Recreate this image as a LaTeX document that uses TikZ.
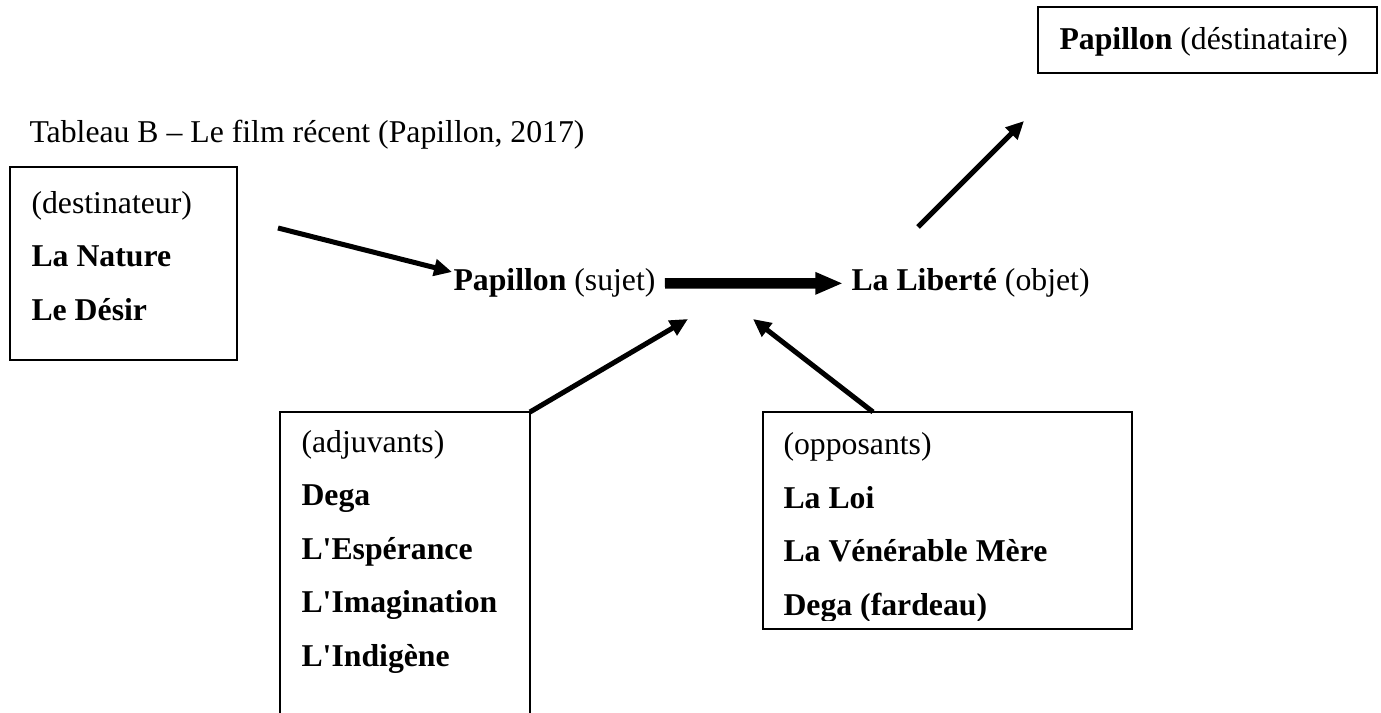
\documentclass[12pt,tikz,border=0pt]{standalone}
\usepackage{fontspec}
\setmainfont{Liberation Serif}
\usetikzlibrary{arrows.meta}
\tikzset{
    cadre/.style={line width=0.75pt},
    ligne/.style={anchor=base west, inner sep=0pt},
    fleche/.style={line width=1.9pt, -{Triangle[length=6.8pt,width=6.2pt]}},
    grosse/.style={line width=3.9pt, -{Triangle[length=10.5pt,width=7.8pt]}}
}
\begin{document}
\begin{tikzpicture}[x=0.378pt,y=-0.378pt]
    \useasboundingbox (0,0) rectangle (1381,713);

    \node[ligne] (titre) at (29,143) {Tableau B – Le film récent (Papillon, 2017)};

    % destinataire
    \draw[cadre] (1038,7) rectangle (1377,73);
    \node[ligne] (destinataire) at (1059,50) {\textbf{Papillon} (déstinataire)};

    % destinateur
    \draw[cadre] (10,167) rectangle (237,360);
    \node[ligne] (destinateur) at (31,214) {(destinateur)};
    \node[ligne] (nature) at (31,267) {\textbf{La Nature}};
    \node[ligne] (desir) at (31,320) {\textbf{Le Désir}};

    % sujet et objet
    \node[ligne] (sujet) at (453,291) {\textbf{Papillon} (sujet)};
    \node[ligne] (objet) at (851,291) {\textbf{La Liberté} (objet)};
    \draw[grosse, shorten <=3.4pt, shorten >=3pt] (sujet.east) -- (objet.west);

    % adjuvants (la boite continue sous la page)
    \draw[cadre] (280,412) rectangle (530,760);
    \coordinate (adjuvants) at (530,412);
    \node[ligne] (adj) at (301,452) {(adjuvants)};
    \node[ligne] (dega) at (301,505.5) {\textbf{Dega}};
    \node[ligne] (esperance) at (301,559) {\textbf{L\textquotesingle Espérance}};
    \node[ligne] (imagination) at (301,612.5) {\textbf{L\textquotesingle Imagination}};
    \node[ligne] (indigene) at (301,666) {\textbf{L\textquotesingle Indigène}};

    % opposants
    \draw[cadre] (763,412) rectangle (1132,629);
    \coordinate (opposants) at (873,412);
    \node[ligne] (opp) at (783,455) {(opposants)};
    \node[ligne] (loi) at (783,508.5) {\textbf{La Loi}};
    \node[ligne] (mere) at (783,562) {\textbf{La Vénérable Mère}};
    \begin{scope}
        \clip (763,412) rectangle (1132,620);
        \node[ligne] (fardeau) at (783,615.5) {\textbf{Dega (fardeau)}};
    \end{scope}

    % fleches
    \coordinate (a1) at (278,228);
    \coordinate (a2) at (452,272);
    \coordinate (b2) at (688,319);
    \coordinate (c2) at (753,319);
    \coordinate (e1) at (918,227);
    \coordinate (e2) at (1024,121);
    \draw[fleche] (a1) -- (a2);
    \draw[fleche] (adjuvants) -- (b2);
    \draw[fleche] (opposants) -- (c2);
    \draw[fleche] (e1) -- (e2);
\end{tikzpicture}
\end{document}
